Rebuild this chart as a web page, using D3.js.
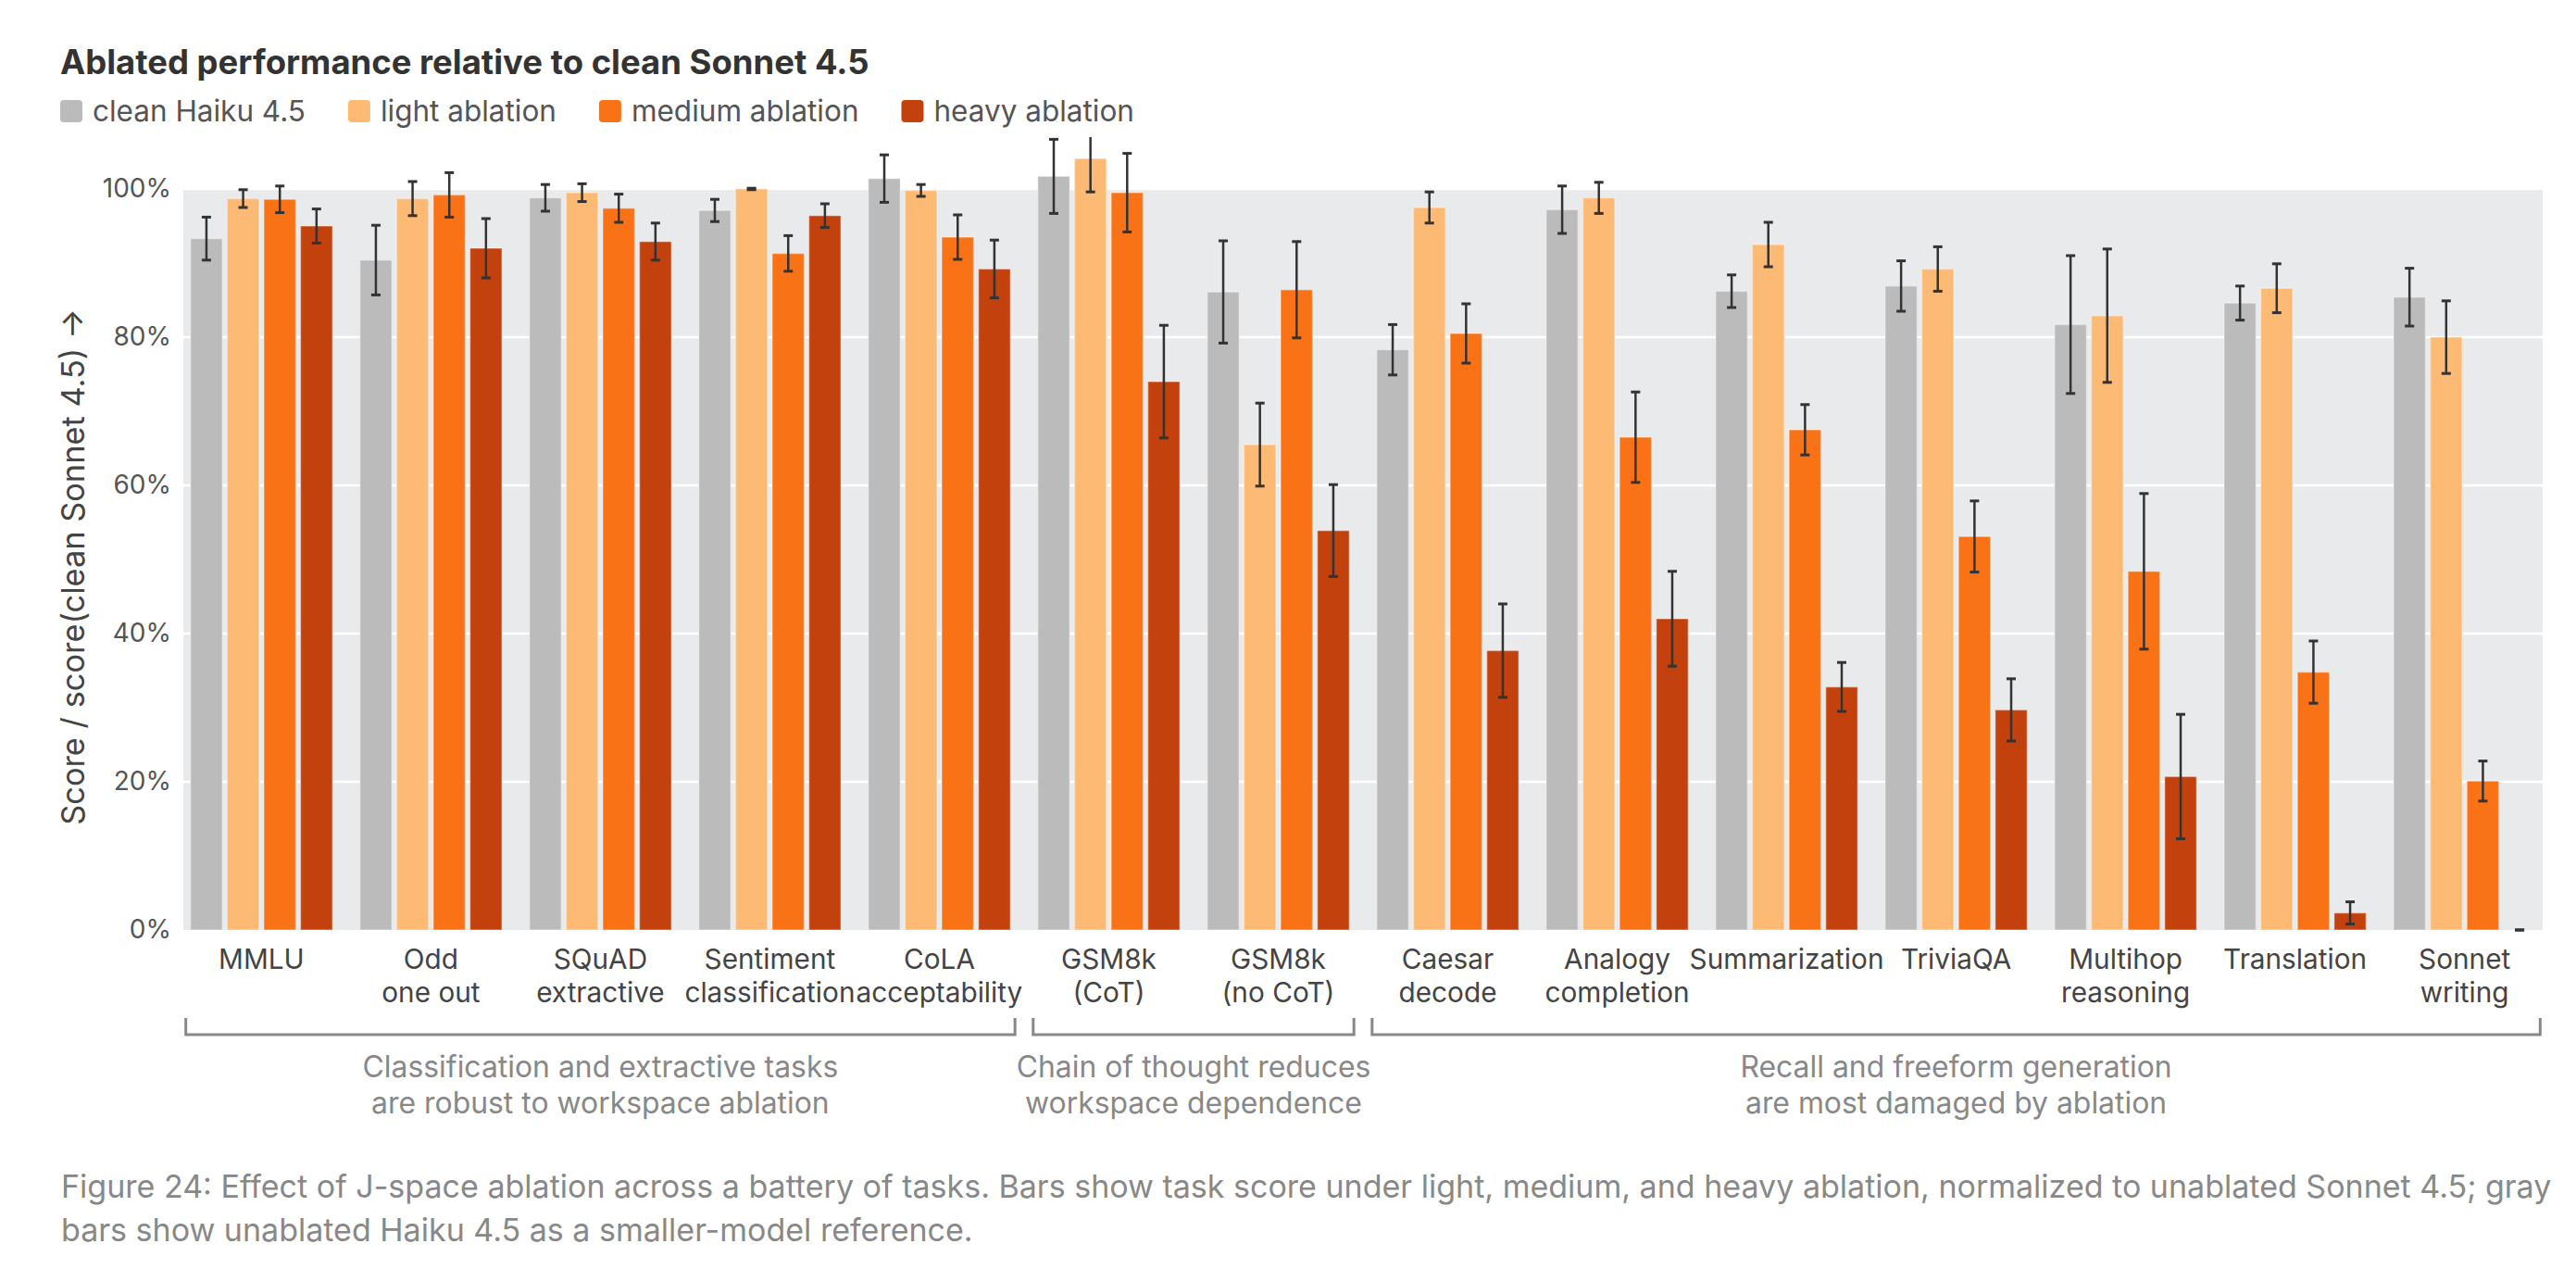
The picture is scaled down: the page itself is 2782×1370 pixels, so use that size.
<!DOCTYPE html>
<html>
<head>
<meta charset="utf-8">
<script src="https://d3js.org/d3.v7.min.js"></script>
<style>
  body { margin: 0; background: #fff; }
  svg text { font-family: Inter, "Noto Sans", sans-serif; }
</style>
</head>
<body>
<script>
// categories along the x axis
const categories = ["MMLU", "Odd one out", "SQuAD extractive", "Sentiment classification",
  "CoLA acceptability", "GSM8k (CoT)", "GSM8k (no CoT)", "Caesar decode",
  "Analogy completion", "Summarization", "TriviaQA", "Multihop reasoning",
  "Translation", "Sonnet writing"];
const tickLabels = [["MMLU"], ["Odd", "one out"], ["SQuAD", "extractive"], ["Sentiment", "classification"],
  ["CoLA", "acceptability"], ["GSM8k", "(CoT)"], ["GSM8k", "(no CoT)"], ["Caesar", "decode"],
  ["Analogy", "completion"], ["Summarization"], ["TriviaQA"], ["Multihop", "reasoning"],
  ["Translation"], ["Sonnet", "writing"]];

const seriesNames = ["clean Haiku 4.5", "light ablation", "medium ablation", "heavy ablation"];

// score / score(clean Sonnet 4.5), in %
const haiku    = [93.3, 90.4, 98.8, 97.1, 101.4, 101.7, 86.1, 78.3, 97.2, 86.2, 86.9, 81.7, 84.6, 85.4];
const haikuErr = [2.9, 4.7, 1.8, 1.5, 3.2, 5.0, 6.9, 3.4, 3.2, 2.2, 3.4, 9.3, 2.3, 3.9];
const light    = [98.7, 98.7, 99.5, 100.0, 99.8, 104.1, 65.5, 97.5, 98.8, 92.5, 89.2, 82.9, 86.6, 80.0];
const lightErr = [1.2, 2.3, 1.2, 0.1, 0.8, 4.5, 5.6, 2.1, 2.1, 3.0, 3.0, 9.0, 3.3, 4.9];
const medium   = [98.6, 99.2, 97.4, 91.3, 93.5, 99.5, 86.4, 80.5, 66.5, 67.5, 53.1, 48.4, 34.8, 20.1];
const mediumErr= [1.8, 3.0, 1.9, 2.4, 3.0, 5.3, 6.5, 4.0, 6.1, 3.4, 4.8, 10.5, 4.2, 2.7];
const heavy    = [95.0, 92.0, 92.9, 96.4, 89.2, 74.0, 53.9, 37.7, 42.0, 32.8, 29.7, 20.7, 2.3, 0.0];
const heavyErr = [2.3, 4.0, 2.5, 1.6, 3.9, 7.6, 6.2, 6.3, 6.4, 3.3, 4.2, 8.4, 1.5, 0.0];

const yTicks = [0, 20, 40, 60, 80, 100];

// brackets under the axis
const groupFirst = ["MMLU", "GSM8k (CoT)", "Caesar decode"];
const groupLast = ["CoLA acceptability", "GSM8k (no CoT)", "Sonnet writing"];
const groupLabels = [["Classification and extractive tasks", "are robust to workspace ablation"],
  ["Chain of thought reduces", "workspace dependence"],
  ["Recall and freeform generation", "are most damaged by ablation"]];

const title = "Ablated performance relative to clean Sonnet 4.5";
const yTitle = "Score / score(clean Sonnet 4.5) \u2192";
const caption = ["Figure 24: Effect of J-space ablation across a battery of tasks. Bars show task score under light, medium, and heavy ablation, normalized to unablated Sonnet 4.5; gray",
  "bars show unablated Haiku 4.5 as a smaller-model reference."];

const values = [haiku, light, medium, heavy];
const errors = [haikuErr, lightErr, mediumErr, heavyErr];

const w = 2782, h = 1370;
const padL = 198, padR = 2746, padT = 204, padB = 1004;

const svg = d3.select("body").append("svg")
  .attr("width", w)
  .attr("height", h);

// font size that makes a string span a given width (the original used a narrower system font)
function sizeFor(str, weight, width) {
  const t = svg.append("text").attr("font-size", 100).attr("font-weight", weight).text(str);
  const len = t.node().getComputedTextLength();
  t.remove();
  return 100 * width / len;
}
const titleSize = sizeFor(title, 700, 874);
const legendSize = sizeFor(seriesNames[0], 400, 230);
const yTitleSize = sizeFor(yTitle, 400, 558);
const tickSize = sizeFor("Summarization", 400, 210);
const groupSize = sizeFor(groupLabels[0][0], 400, 514);
const captionSize = sizeFor(caption[0], 400, 2690);

const fx = d3.scaleBand().domain(categories).range([padL, padR])
  .paddingInner(0.162).paddingOuter(0.042);
const x = d3.scaleBand().domain(seriesNames).range([0, fx.bandwidth()]).paddingInner(0.13);
const y = d3.scaleLinear().domain([0, 100]).range([padB, padT]);
const color = d3.scaleOrdinal().domain(seriesNames)
  .range(["#bbbbbb", "#fdba74", "#f97316", "#c2410c"]);

const rows = [];
categories.forEach((c, i) => {
  seriesNames.forEach((s, j) => {
    rows.push({cat: c, series: s, value: values[j][i], err: errors[j][i]});
  });
});

// title + legend
svg.append("text")
  .attr("x", 65).attr("y", 80)
  .attr("font-size", titleSize).attr("font-weight", 700).attr("fill", "#333")
  .text(title);

let lx = 65;
seriesNames.forEach(s => {
  svg.append("rect")
    .attr("x", lx).attr("y", 108).attr("width", 24).attr("height", 24).attr("rx", 4)
    .attr("fill", color(s));
  const t = svg.append("text")
    .attr("x", lx + 35).attr("y", 131)
    .attr("font-size", legendSize).attr("fill", "#555")
    .text(s);
  lx = lx + 35 + t.node().getComputedTextLength() + 46;
});

// plot background and grid
svg.append("rect")
  .attr("x", padL).attr("y", y(100))
  .attr("width", padR - padL).attr("height", y(0) - y(100))
  .attr("fill", "#e9eaec");

svg.append("g").selectAll("line")
  .data(yTicks.filter(d => d > 0))
  .enter().append("line")
  .attr("x1", padL).attr("x2", padR)
  .attr("y1", d => y(d)).attr("y2", d => y(d))
  .attr("stroke", "#fff").attr("stroke-width", 2.5);

// y axis
const yAxis = svg.append("g")
  .attr("transform", "translate(" + padL + ",0)")
  .call(d3.axisLeft(y).tickValues(yTicks).tickFormat(d => d + "%").tickSize(0).tickPadding(13));
yAxis.select(".domain").remove();
yAxis.selectAll("text").attr("font-size", 28).attr("fill", "#555");

svg.append("text")
  .attr("transform", "translate(91,612) rotate(-90)")
  .attr("text-anchor", "middle")
  .attr("font-size", yTitleSize).attr("fill", "#444")
  .text(yTitle);

// bars + error bars, clipped at the top of the chart svg
svg.append("clipPath").attr("id", "clip")
  .append("rect").attr("x", 0).attr("y", 148).attr("width", w).attr("height", h - 148);

const marks = svg.append("g").attr("clip-path", "url(#clip)");

marks.selectAll("rect.bar")
  .data(rows)
  .enter().append("rect")
  .attr("class", "bar")
  .attr("x", d => fx(d.cat) + x(d.series))
  .attr("y", d => y(d.value))
  .attr("width", x.bandwidth())
  .attr("height", d => y(0) - y(d.value))
  .attr("fill", d => color(d.series))
  .attr("stroke", "#fff").attr("stroke-opacity", 0.35).attr("stroke-width", 1.5);

const eb = marks.selectAll("g.err")
  .data(rows)
  .enter().append("g")
  .attr("class", "err")
  .attr("transform", d => "translate(" + (fx(d.cat) + x(d.series) + x.bandwidth() / 2) + ",0)")
  .attr("stroke", "#333");

eb.append("line")
  .attr("y1", d => y(d.value - d.err)).attr("y2", d => y(d.value + d.err))
  .attr("stroke-width", 2.5);
eb.append("line")
  .attr("x1", -5).attr("x2", 5)
  .attr("y1", d => y(d.value + d.err)).attr("y2", d => y(d.value + d.err))
  .attr("stroke-width", 3);
eb.append("line")
  .attr("x1", -5).attr("x2", 5)
  .attr("y1", d => y(d.value - d.err)).attr("y2", d => y(d.value - d.err))
  .attr("stroke-width", 3);

// x axis with two-line labels
const xAxis = svg.append("g")
  .attr("transform", "translate(0," + padB + ")")
  .call(d3.axisBottom(fx).tickSize(0));
xAxis.select(".domain").remove();
xAxis.selectAll(".tick text").each(function(d) {
  const t = d3.select(this).text(null).attr("y", null).attr("dy", null)
    .attr("font-size", tickSize).attr("fill", "#444");
  tickLabels[categories.indexOf(d)].forEach((line, k) => {
    t.append("tspan").attr("x", 0).attr("y", 42 + k * 36).text(line);
  });
});

// group brackets
groupFirst.forEach((f, i) => {
  const x1 = fx(f) - 5;
  const x2 = fx(groupLast[i]) + fx.bandwidth() + 5;
  svg.append("path")
    .attr("d", "M" + x1 + ",1099V1117H" + x2 + "V1099")
    .attr("fill", "none").attr("stroke", "#888").attr("stroke-width", 3);
  const t = svg.append("text")
    .attr("text-anchor", "middle")
    .attr("font-size", groupSize).attr("fill", "#888");
  groupLabels[i].forEach((line, k) => {
    t.append("tspan").attr("x", (x1 + x2) / 2).attr("y", 1163 + k * 39).text(line);
  });
});

// caption
const cap = svg.append("text").attr("font-size", captionSize).attr("fill", "#888");
caption.forEach((line, k) => {
  cap.append("tspan").attr("x", 66).attr("y", 1293 + k * 47).text(line);
});
</script>
</body>
</html>
